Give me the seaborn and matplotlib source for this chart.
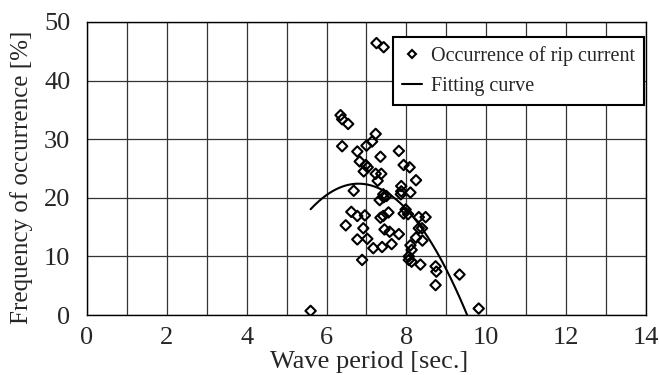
import numpy as np
import pandas as pd
import matplotlib
matplotlib.use("Agg")
import matplotlib.pyplot as plt
import seaborn as sns
from matplotlib.lines import Line2D

# ---- data ----
wave_period = [5.60, 6.35, 6.39, 6.54, 6.39, 6.77, 6.83, 6.98, 7.03, 6.93,
               7.00, 7.14, 7.23, 7.35, 7.23, 7.37, 7.28, 7.25, 7.43, 6.68,
               7.42, 7.50, 7.33, 7.43, 7.42, 7.35, 7.55, 6.62, 6.77, 6.96,
               6.48, 6.92, 7.45, 6.77, 7.02, 7.17, 7.39, 6.89, 7.81, 7.93,
               8.08, 8.24, 7.87, 7.87, 8.10, 7.86, 7.98, 7.93, 8.04, 8.31,
               8.48, 8.31, 8.39, 7.58, 7.81, 8.24, 8.40, 7.63, 8.10, 8.13,
               8.06, 8.06, 8.13, 8.35, 8.73, 8.75, 8.73, 9.33, 9.81]
occurrence = [0.7, 34.1, 33.4, 32.6, 28.8, 27.9, 26.2, 25.6, 25.2, 24.5,
              28.9, 29.6, 30.9, 27.0, 24.1, 24.1, 22.9, 46.4, 45.7, 21.2,
              20.6, 20.3, 19.6, 20.1, 16.9, 16.6, 17.5, 17.6, 16.9, 17.0,
              15.3, 14.8, 14.6, 12.9, 13.0, 11.4, 11.6, 9.4, 28.0, 25.6,
              25.2, 23.0, 22.0, 21.1, 20.9, 20.6, 18.0, 17.3, 17.2, 16.7,
              16.7, 14.8, 14.8, 14.2, 13.8, 13.2, 12.7, 12.1, 11.9, 11.1,
              10.0, 9.4, 9.1, 8.6, 8.3, 7.4, 5.1, 6.9, 1.1]

# quadratic fitting curve (coefficients)
fit_coef = [-3.028, 41.18, -117.6]
fit_range = [5.6, 9.52]

x_ticks = [0, 2, 4, 6, 8, 10, 12, 14]
y_ticks = [0, 10, 20, 30, 40, 50]

scatter_label = "Occurrence of rip current"
curve_label = "Fitting curve"
x_label = "Wave period [sec.]"
y_label = "Frequency of occurrence [%]"

# ---- plotting ----
sns.set_style("white")
plt.rcParams["font.family"] = ["Liberation Serif", "DejaVu Serif"]

fig = plt.figure(figsize=(6.59, 3.75), dpi=100)
ax = fig.add_axes([87 / 659, 60 / 375, (646 - 87) / 659, (315 - 22) / 375])

df = pd.DataFrame({"x": wave_period, "y": occurrence})
sns.scatterplot(data=df, x="x", y="y", ax=ax, marker="D", s=28,
                facecolor="none", edgecolor="black", linewidth=1.5, zorder=3)

xc = np.linspace(fit_range[0], fit_range[1], 200)
curve = pd.DataFrame({"x": xc, "y": np.polyval(fit_coef, xc)})
sns.lineplot(data=curve, x="x", y="y", ax=ax, color="black", linewidth=1.5,
             zorder=4)

ax.set_xlim(0, 14)
ax.set_ylim(0, 50)
ax.set_xticks(x_ticks)
ax.set_xticks(np.arange(1, 14, 2), minor=True)
ax.set_yticks(y_ticks)
ax.grid(True, which="both", color="#333333", linewidth=0.9)
ax.set_axisbelow(True)
ax.tick_params(axis="both", which="both", length=0, labelsize=19)
ax.tick_params(axis="x", pad=9)
ax.tick_params(axis="y", pad=12)
for sp in ax.spines.values():
    sp.set_color("black")
    sp.set_linewidth(1.0)

ax.set_xlabel("")
ax.set_ylabel(y_label, fontsize=18)
ax.yaxis.set_label_coords(-0.097, (315 - 177) / 293)
fig.text(369 / 659, 7.0 / 375, x_label, fontsize=19, ha="center",
         va="baseline")

handles = [
    Line2D([], [], marker="D", linestyle="none", markerfacecolor="none",
           markeredgecolor="black", markeredgewidth=1.5, markersize=4.5),
    Line2D([], [], color="black", linewidth=1.5),
]
leg = ax.legend(handles, [scatter_label, curve_label], loc="upper right",
                bbox_to_anchor=(644 / 659, 1 - 37 / 375),
                bbox_transform=fig.transFigure, fontsize=14.5,
                frameon=True, fancybox=False, handlelength=1.0,
                handletextpad=0.45, borderpad=0.45, labelspacing=0.55,
                borderaxespad=0)
leg.get_frame().set_edgecolor("black")
leg.get_frame().set_linewidth(1.5)
leg.get_frame().set_facecolor("white")
leg.get_frame().set_alpha(1)

fig.savefig("out.png", dpi=100)
